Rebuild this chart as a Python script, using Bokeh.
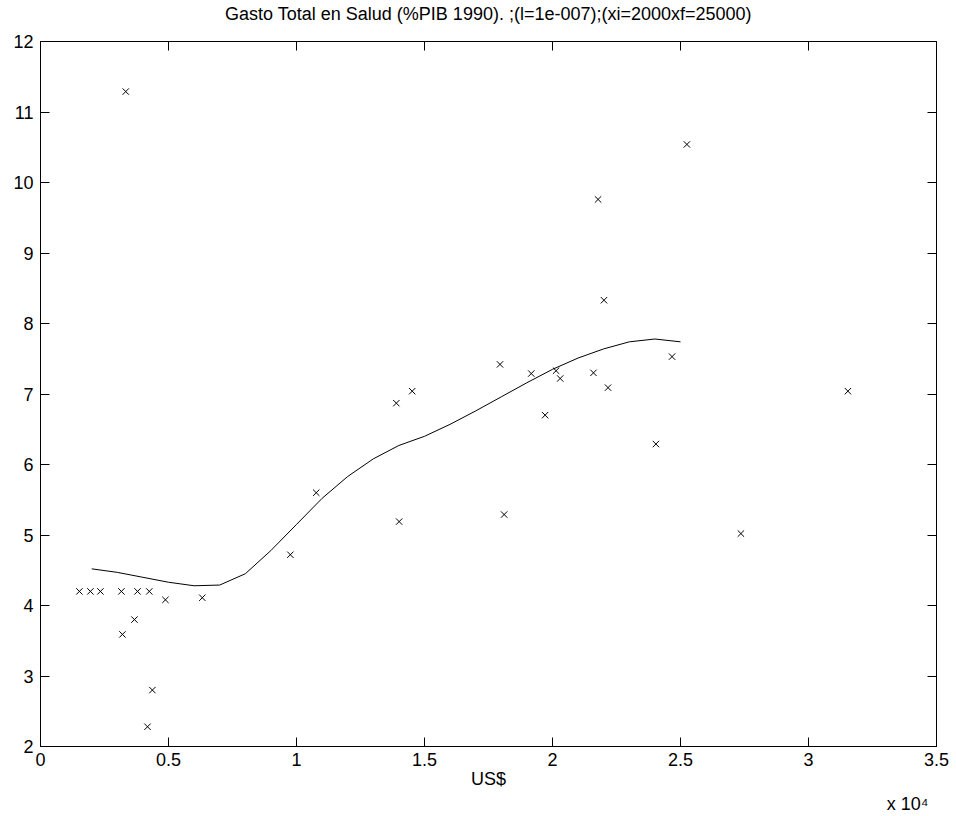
from bokeh.plotting import figure
from bokeh.models import LinearAxis, FixedTicker, Title, Range1d
from bokeh.embed import file_html
from bokeh.resources import INLINE

# Data: scatter (US$, % GDP health spending)
gdp = [1520, 1950, 2340, 3160, 3790, 4250, 4880, 6320, 3200, 3670, 4370, 4180,
       3330, 9760, 10770, 13900, 14520, 14010, 17950, 18110, 19170, 19710,
       20140, 20300, 21600, 21780, 22010, 22170, 24040, 24670, 25250, 27360, 31540]
gasto = [4.20, 4.20, 4.20, 4.20, 4.20, 4.20, 4.08, 4.11, 3.59, 3.80, 2.80, 2.28,
         11.29, 4.72, 5.60, 6.87, 7.04, 5.19, 7.42, 5.29, 7.29, 6.70,
         7.33, 7.22, 7.30, 9.76, 8.33, 7.09, 6.29, 7.53, 10.54, 5.02, 7.04]

# Smoothed curve (xi=2000, xf=25000)
curve_x = [2000, 3000, 4000, 5000, 6000, 7000, 8000, 9000, 10000, 11000, 12000, 13000,
           14000, 15000, 16000, 17000, 18000, 19000, 20000, 21000, 22000, 23000, 24000, 25000]
curve_y = [4.52, 4.47, 4.40, 4.33, 4.28, 4.29, 4.45, 4.78, 5.15, 5.52, 5.83, 6.08,
           6.27, 6.40, 6.57, 6.76, 6.96, 7.16, 7.35, 7.51, 7.64, 7.74, 7.78, 7.74]

x_ticks = [0, 5000, 10000, 15000, 20000, 25000, 30000, 35000]
x_tick_labels = ["0", "0.5", "1", "1.5", "2", "2.5", "3", "3.5"]
y_ticks = [2, 3, 4, 5, 6, 7, 8, 9, 10, 11, 12]
title_text = "Gasto Total en Salud (%PIB 1990). ;(l=1e-007);(xi=2000xf=25000)"

FONT = "Liberation Sans"
FS = "18px"

p = figure(width=956, height=816, output_backend="svg", toolbar_location=None,
           x_range=Range1d(0, 35000), y_range=Range1d(2, 12),
           min_border_left=40, min_border_right=20, min_border_top=41, min_border_bottom=70,
           x_axis_location=None, y_axis_location=None)
p.grid.visible = False
p.outline_line_color = "black"
p.outline_line_width = 1
p.background_fill_color = "white"
p.border_fill_color = "white"


def style(ax, labels=True):
    ax.axis_line_color = "black"
    ax.major_tick_line_color = "black"
    ax.major_tick_in = 9
    ax.major_tick_out = 0
    ax.minor_tick_in = 0
    ax.minor_tick_out = 0
    ax.major_label_text_font = FONT
    ax.major_label_text_font_size = FS if labels else "0px"
    ax.major_label_text_color = "black"
    ax.major_label_standoff = 8 if labels else 0


xb = LinearAxis(ticker=FixedTicker(ticks=x_ticks),
                major_label_overrides={t: l for t, l in zip(x_ticks, x_tick_labels)})
style(xb)
xb.major_label_standoff = 6
xb.axis_label = "US$"
xb.axis_label_text_font = FONT
xb.axis_label_text_font_size = FS
xb.axis_label_text_font_style = "normal"
xb.axis_label_text_color = "black"
xb.axis_label_standoff = 0
p.add_layout(xb, "below")

# Top axis: inward ticks only, carries the chart title as its axis label
xt = LinearAxis(ticker=FixedTicker(ticks=x_ticks), major_label_overrides={t: "" for t in x_ticks})
style(xt, labels=False)
xt.axis_label = title_text
xt.axis_label_text_font = FONT
xt.axis_label_text_font_size = FS
xt.axis_label_text_font_style = "normal"
xt.axis_label_text_color = "black"
xt.axis_label_standoff = 18
p.add_layout(xt, "above")

yl = LinearAxis(ticker=FixedTicker(ticks=y_ticks))
style(yl)
yl.major_label_standoff = 7
p.add_layout(yl, "left")

yr = LinearAxis(ticker=FixedTicker(ticks=y_ticks), major_label_overrides={t: "" for t in y_ticks})
style(yr, labels=False)
p.add_layout(yr, "right")

exp_title = Title(text="x 10\u2074", align="right", text_font=FONT, text_font_size=FS,
                  text_font_style="normal", text_color="black", standoff=0, offset=8)
p.add_layout(exp_title, "below")

p.line(curve_x, curve_y, line_color="black", line_width=1)
p.scatter(gdp, gasto, marker="x", size=9, line_color="black", line_width=1)

open("out.html", "w").write(file_html(p, INLINE))
